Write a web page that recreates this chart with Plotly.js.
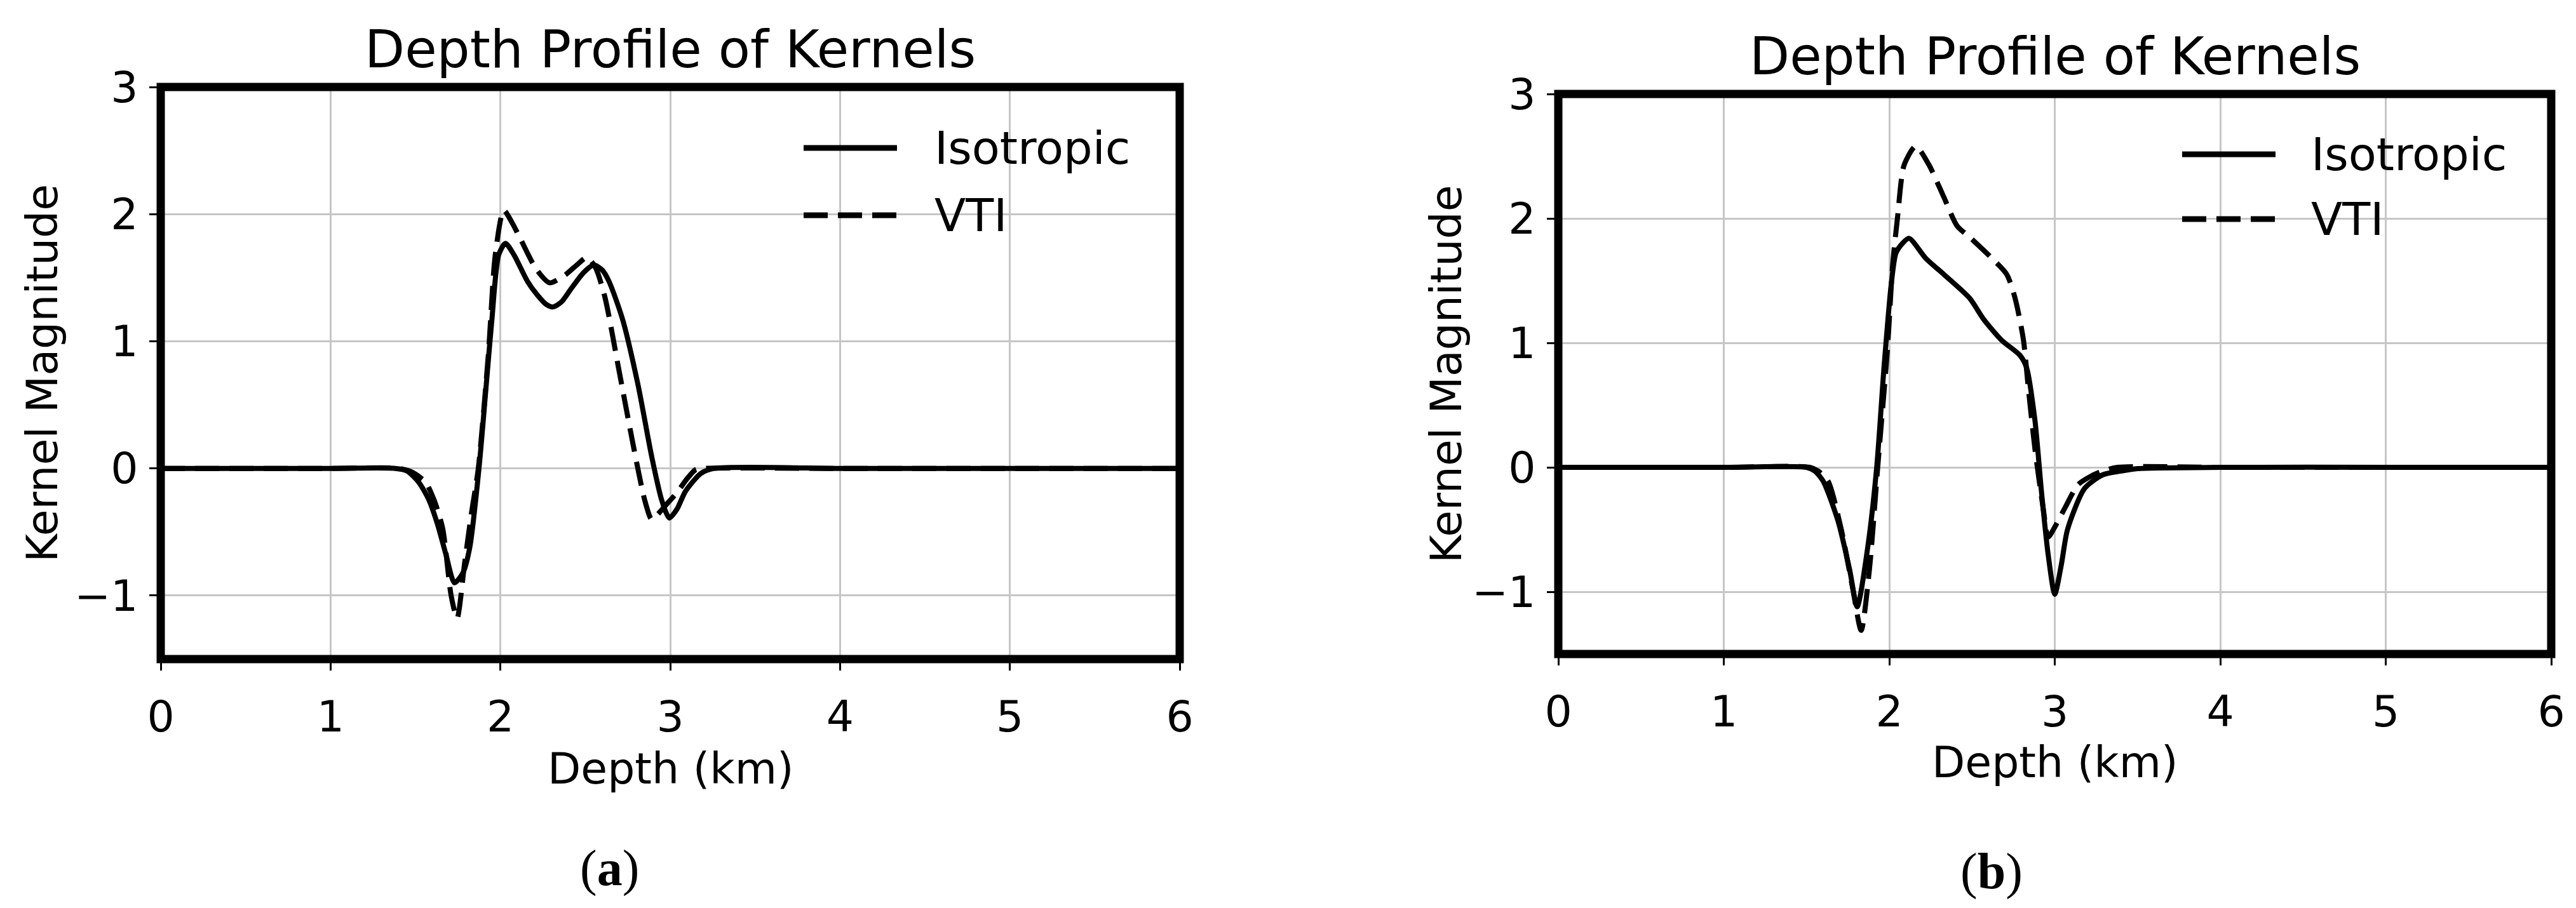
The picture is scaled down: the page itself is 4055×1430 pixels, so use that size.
<!DOCTYPE html>
<html>
<head>
<meta charset="utf-8">
<script src="https://cdn.plot.ly/plotly-3.0.1.min.js"></script>
<style>
html,body{margin:0;padding:0;background:#fff;}
#chart{width:4055px;height:1430px;}
</style>
</head>
<body>
<div id="chart"></div>
<script>
// ---------- DATA ----------
const depthIsoA  = [0, 1.0, 1.38, 1.45, 1.52, 1.58, 1.63, 1.68, 1.73, 1.78, 1.82, 1.874, 1.917, 1.95, 1.99, 2.03, 2.08, 2.16, 2.22, 2.27, 2.31, 2.36, 2.42, 2.49, 2.55, 2.60, 2.64, 2.72, 2.81, 2.89, 2.95, 2.995, 3.04, 3.09, 3.18, 3.26, 4, 5, 6];
const kernelIsoA = [0, 0, 0, -0.02, -0.11, -0.25, -0.44, -0.68, -0.90, -0.82, -0.62, 0, 0.66, 1.17, 1.68, 1.77, 1.68, 1.47, 1.36, 1.29, 1.27, 1.31, 1.42, 1.54, 1.60, 1.56, 1.47, 1.17, 0.66, 0.10, -0.25, -0.39, -0.32, -0.18, -0.04, 0, 0, 0, 0];

const depthVtiA  = [0, 1.0, 1.40, 1.48, 1.56, 1.61, 1.66, 1.71, 1.745, 1.79, 1.83, 1.87, 1.93, 1.97, 2.02, 2.07, 2.12, 2.21, 2.29, 2.38, 2.45, 2.51, 2.56, 2.615, 2.70, 2.787, 2.85, 2.89, 2.92, 2.98, 3.04, 3.10, 3.15, 3.2, 4, 5, 6];
const kernelVtiA = [0, 0, 0, -0.03, -0.11, -0.25, -0.47, -1.0, -1.18, -0.74, -0.35, 0, 0.91, 1.68, 2.03, 1.93, 1.80, 1.57, 1.46, 1.52, 1.60, 1.66, 1.58, 1.35, 0.76, 0.15, -0.25, -0.40, -0.37, -0.28, -0.19, -0.08, -0.01, 0, 0, 0, 0];

const depthIsoB  = [0, 1.0, 1.50, 1.55, 1.60, 1.69, 1.76, 1.806, 1.868, 1.924, 1.968, 2.011, 2.04, 2.08, 2.12, 2.22, 2.33, 2.485, 2.57, 2.68, 2.79, 2.83, 2.88, 2.92, 2.96, 3.0, 3.04, 3.077, 3.18, 3.29, 3.40, 3.50, 4, 5, 6];
const kernelIsoB = [0, 0, 0, -0.03, -0.11, -0.43, -0.82, -1.12, -0.66, 0, 0.80, 1.46, 1.72, 1.80, 1.84, 1.68, 1.55, 1.36, 1.19, 1.02, 0.90, 0.80, 0.38, -0.20, -0.70, -1.02, -0.78, -0.50, -0.17, -0.06, -0.03, -0.01, 0, 0, 0];

const depthVtiB  = [0, 1.0, 1.52, 1.57, 1.63, 1.71, 1.78, 1.83, 1.88, 1.93, 1.99, 2.02, 2.05, 2.09, 2.16, 2.24, 2.33, 2.41, 2.485, 2.62, 2.71, 2.76, 2.81, 2.84, 2.88, 2.93, 2.96, 3.00, 3.06, 3.14, 3.22, 3.29, 3.38, 4, 5, 6];
const kernelVtiB = [0, 0, 0, -0.03, -0.11, -0.50, -0.98, -1.31, -0.82, 0, 0.97, 1.62, 2.01, 2.43, 2.58, 2.43, 2.17, 1.94, 1.85, 1.68, 1.55, 1.36, 1.03, 0.64, 0.15, -0.33, -0.56, -0.48, -0.33, -0.14, -0.07, -0.03, 0, 0, 0, 0];

const xTickVals = [0, 1, 2, 3, 4, 5, 6];
const yTickVals = [-1, 0, 1, 2, 3];
const seriesNames = ['Isotropic', 'VTI'];
const panelTitle = 'Depth Profile of Kernels';
const xAxisTitle = 'Depth (km)';
const yAxisTitle = 'Kernel Magnitude';
const panelLabels = ['a', 'b'];

// ---------- LAYOUT HELPERS ----------
const W = 4055, H = 1430;
const px = x => x / W;
const py = y => 1 - y / H;
const FONT = 'DejaVu Sans';

// panel boxes in pixels: [left, right, top, bottom]
const boxA = [253, 1857, 137, 1038];
const boxB = [2453, 4016, 148, 1030];

function xAxis(box, anchor) {
  return {
    domain: [px(box[0]), px(box[1])], anchor: anchor,
    range: [0, 6], tickmode: 'array', tickvals: xTickVals,
    showgrid: true, gridcolor: '#c6c6c6', gridwidth: 3,
    zeroline: false, showline: false,
    ticks: 'outside', ticklen: 17, tickwidth: 3, tickcolor: '#000',
    ticklabelstandoff: 14,
    tickfont: {family: FONT, size: 68, color: '#000'},
    fixedrange: true, automargin: false
  };
}
function yAxis(box, anchor) {
  return {
    domain: [py(box[3]), py(box[2])], anchor: anchor,
    range: [-1.5, 3], tickmode: 'array', tickvals: yTickVals,
    showgrid: true, gridcolor: '#c6c6c6', gridwidth: 3,
    zeroline: false, showline: false,
    ticks: 'outside', ticklen: 17, tickwidth: 3, tickcolor: '#000',
    ticklabelstandoff: 4,
    tickfont: {family: FONT, size: 68, color: '#000'},
    fixedrange: true, automargin: false
  };
}

const DASH = '38px,16px';
function trace(x, y, xa, ya, dashed, name) {
  return {
    type: 'scatter', mode: 'lines', x: x, y: y, xaxis: xa, yaxis: ya, name: name,
    line: {color: '#000', width: 8, shape: 'spline', smoothing: 0.7, dash: dashed ? DASH : 'solid'},
    showlegend: false, hoverinfo: 'skip'
  };
}

const data = [
  trace(depthIsoA, kernelIsoA, 'x', 'y', false, seriesNames[0]),
  trace(depthVtiA, kernelVtiA, 'x', 'y', true, seriesNames[1]),
  trace(depthIsoB, kernelIsoB, 'x2', 'y2', false, seriesNames[0]),
  trace(depthVtiB, kernelVtiB, 'x2', 'y2', true, seriesNames[1])
];

const shapes = [];
const annotations = [];

function panelDecor(box, xref, yref, opts) {
  // frame (matplotlib-like spines)
  shapes.push({type: 'rect', xref: xref + ' domain', yref: yref + ' domain',
    x0: 0, x1: 1, y0: 0, y1: 1, line: {color: '#000', width: 13}, layer: 'above'});
  const cx = (box[0] + box[1]) / 2;
  const cy = (box[2] + box[3]) / 2;
  // title
  annotations.push({text: panelTitle, xref: 'paper', yref: 'paper', x: px(cx), y: py(opts.titleY),
    xanchor: 'center', yanchor: 'middle', showarrow: false, font: {family: FONT, size: 82, color: '#000'}});
  // x title
  annotations.push({text: xAxisTitle, xref: 'paper', yref: 'paper', x: px(cx), y: py(opts.xTitleY),
    xanchor: 'center', yanchor: 'middle', showarrow: false, font: {family: FONT, size: 68, color: '#000'}});
  // y title
  annotations.push({text: yAxisTitle, xref: 'paper', yref: 'paper', x: px(opts.yTitleX), y: py(cy),
    xanchor: 'center', yanchor: 'middle', textangle: -90, showarrow: false, font: {family: FONT, size: 68, color: '#000'}});
  // legend
  const lg = opts.legend;
  shapes.push({type: 'line', xref: 'paper', yref: 'paper', x0: px(lg.x0), x1: px(lg.x1), y0: py(lg.y1), y1: py(lg.y1),
    line: {color: '#000', width: 9}, layer: 'above'});
  shapes.push({type: 'line', xref: 'paper', yref: 'paper', x0: px(lg.x0), x1: px(lg.x1), y0: py(lg.y2), y1: py(lg.y2),
    line: {color: '#000', width: 9, dash: DASH}, layer: 'above'});
  annotations.push({text: seriesNames[0], xref: 'paper', yref: 'paper', x: px(lg.tx), y: py(lg.y1),
    xanchor: 'left', yanchor: 'middle', showarrow: false, font: {family: FONT, size: 72, color: '#000'}});
  annotations.push({text: seriesNames[1], xref: 'paper', yref: 'paper', x: px(lg.tx), y: py(lg.y2),
    xanchor: 'left', yanchor: 'middle', showarrow: false, font: {family: FONT, size: 72, color: '#000'}});
  // panel label
  annotations.push({text: '(<b>' + opts.label + '</b>)', xref: 'paper', yref: 'paper', x: px(opts.labelX), y: py(opts.labelY),
    xanchor: 'center', yanchor: 'middle', showarrow: false, font: {family: 'Liberation Serif', size: 80, color: '#000'}});
}

panelDecor(boxA, 'x', 'y', {
  titleY: 77, xTitleY: 1210, yTitleX: 66,
  legend: {x0: 1265, x1: 1412, y1: 233, y2: 339, tx: 1469},
  label: panelLabels[0], labelX: 959, labelY: 1367
});
panelDecor(boxB, 'x2', 'y2', {
  titleY: 89, xTitleY: 1200, yTitleX: 2276,
  legend: {x0: 3435, x1: 3582, y1: 243, y2: 345, tx: 3636},
  label: panelLabels[1], labelX: 3135, labelY: 1372
});

const layout = {
  width: W, height: H,
  margin: {l: 0, r: 0, t: 0, b: 0, pad: 0},
  paper_bgcolor: '#fff', plot_bgcolor: '#fff',
  showlegend: false,
  font: {family: FONT, color: '#000'},
  xaxis: xAxis(boxA, 'y'),
  yaxis: yAxis(boxA, 'x'),
  xaxis2: xAxis(boxB, 'y2'),
  yaxis2: yAxis(boxB, 'x2'),
  shapes: shapes,
  annotations: annotations
};

Plotly.newPlot('chart', data, layout, {staticPlot: true, displayModeBar: false});
</script>
</body>
</html>
